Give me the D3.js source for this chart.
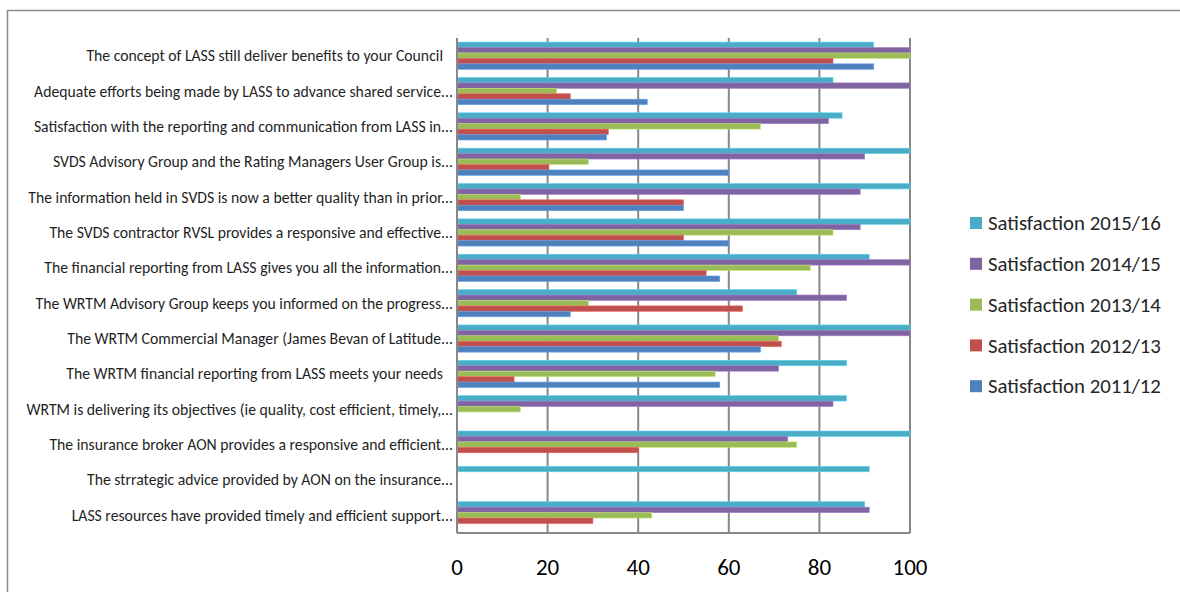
<!DOCTYPE html>
<html>
<head>
<meta charset="utf-8">
<script src="https://cdn.jsdelivr.net/npm/d3@7"></script>
<style>
  body { margin: 0; background: #fff; }
  svg { display: block; }
  text { font-family: Carlito, Calibri, Lato, "Open Sans", sans-serif; }
</style>
</head>
<body>
<div id="chart"></div>
<script>
const questions = [
  'The concept of LASS still deliver benefits to your Council',
  'Adequate efforts being made by LASS to advance shared service...',
  'Satisfaction with the reporting and communication from LASS in...',
  'SVDS Advisory Group and the Rating Managers User Group is...',
  'The information held in SVDS is now a better quality than in prior...',
  'The SVDS contractor RVSL provides a responsive and effective...',
  'The financial reporting from LASS gives you all the information...',
  'The WRTM Advisory Group keeps you informed on the progress...',
  'The WRTM Commercial Manager (James Bevan of Latitude...',
  'The WRTM financial reporting from LASS meets your needs',
  'WRTM is delivering its objectives (ie quality, cost efficient, timely,...',
  'The insurance broker AON provides a responsive and efficient...',
  'The strrategic advice provided by AON on the insurance...',
  'LASS resources have provided timely and efficient support...'
];

const seriesNames = ['Satisfaction 2015/16', 'Satisfaction 2014/15', 'Satisfaction 2013/14',
                     'Satisfaction 2012/13', 'Satisfaction 2011/12'];

// null = no response that year
const sat1516 = [92, 83, 85, 100, 100, 100, 91, 75, 100, 86, 86, 100, 91, 90];
const sat1415 = [100, 100, 82, 90, 89, 89, 100, 86, 100, 71, 83, 73, null, 91];
const sat1314 = [100, 22, 67, 29, 14, 83, 78, 29, 71, 57, 14, 75, null, 43];
const sat1213 = [83, 25, 33.4, 20.3, 50, 50, 55, 63, 71.6, 12.6, null, 40, null, 30];
const sat1112 = [92, 42, 33, 60, 50, 60, 58, 25, 67, 58, null, null, null, null];

const xTicks = [0, 20, 40, 60, 80, 100];

const colors = ['#4bacc6', '#8064a2', '#9bbb59', '#c0504d', '#4f81bd'];
const seriesValues = [sat1516, sat1415, sat1314, sat1213, sat1112];

const w = 1180;
const h = 592;
const plot = { left: 457, right: 910, top: 38, bottom: 533 };

const svg = d3.select('#chart')
  .append('svg')
  .attr('width', w)
  .attr('height', h);

// outer frame
svg.append('rect')
  .attr('x', 7.5)
  .attr('y', 10.5)
  .attr('width', w + 20)
  .attr('height', h + 20)
  .attr('fill', 'none')
  .attr('stroke', '#8c8c8c')
  .attr('stroke-width', 1.5);

// Scales
const xScale = d3.scaleLinear()
  .domain([0, 100])
  .range([plot.left, plot.right]);

const yScale = d3.scaleBand()
  .domain(questions)
  .range([plot.top, plot.bottom]);

const band = yScale.bandwidth();
const gap = band * 1.5 / 6.5;
const ySub = d3.scaleBand()
  .domain(seriesNames)
  .range([gap / 2, band - gap / 2]);

// gridlines
svg.append('g')
  .selectAll('line')
  .data(xTicks)
  .enter()
  .append('line')
  .attr('x1', d => xScale(d))
  .attr('x2', d => xScale(d))
  .attr('y1', plot.top)
  .attr('y2', plot.bottom)
  .attr('stroke', '#878787')
  .attr('stroke-width', 2);

// bottom axis line
svg.append('line')
  .attr('x1', plot.left)
  .attr('x2', plot.right)
  .attr('y1', plot.bottom)
  .attr('y2', plot.bottom)
  .attr('stroke', '#878787')
  .attr('stroke-width', 2);

// Bars
const rows = [];
seriesNames.forEach((s, si) => {
  questions.forEach((q, qi) => {
    const v = seriesValues[si][qi];
    if (v != null) rows.push({ q, s, v, color: colors[si] });
  });
});

svg.append('g')
  .selectAll('rect')
  .data(rows)
  .enter()
  .append('rect')
  .attr('x', xScale(0) + 1)
  .attr('y', d => yScale(d.q) + ySub(d.s))
  .attr('width', d => xScale(d.v) - xScale(0) - 1)
  .attr('height', ySub.bandwidth())
  .attr('fill', d => d.color)
  .attr('stroke', d => d3.color(d.color).brighter(0.6))
  .attr('stroke-width', 0.6);

// left axis line on top of bars
svg.append('line')
  .attr('x1', plot.left)
  .attr('x2', plot.left)
  .attr('y1', plot.top)
  .attr('y2', plot.bottom)
  .attr('stroke', '#878787')
  .attr('stroke-width', 2);

// Category labels
const labels = svg.append('g')
  .selectAll('text')
  .data(questions)
  .enter()
  .append('text')
  .attr('x', d => d.endsWith('...') ? 453 : 443)
  .attr('y', d => yScale(d) + band / 2)
  .attr('dy', '0.35em')
  .attr('text-anchor', 'end')
  .attr('fill', '#1f1f1f')
  .attr('font-size', 14)
  .text(d => d);

// fit label font to the width seen in the picture
const refLen = labels.filter((d, i) => i === 0).node().getComputedTextLength();
labels.attr('font-size', 14 * 357 / refLen);

// x tick labels
svg.append('g')
  .selectAll('text')
  .data(xTicks)
  .enter()
  .append('text')
  .attr('x', d => xScale(d))
  .attr('y', 567)
  .attr('dy', '0.35em')
  .attr('text-anchor', 'middle')
  .attr('font-size', 23)
  .attr('fill', '#000')
  .text(d => d);

// Legend
const legend = svg.append('g')
  .attr('transform', 'translate(970, 223)');

const items = legend.selectAll('g')
  .data(seriesNames)
  .enter()
  .append('g')
  .attr('transform', (d, i) => `translate(0, ${i * 40.8})`);

items.append('rect')
  .attr('x', 0)
  .attr('y', -6)
  .attr('width', 12)
  .attr('height', 12)
  .attr('fill', (d, i) => colors[i]);

const legText = items.append('text')
  .attr('x', 18)
  .attr('y', 0)
  .attr('dy', '0.35em')
  .attr('font-size', 18)
  .attr('fill', '#262626')
  .text(d => d);

const legLen = legText.node().getComputedTextLength();
legText.attr('font-size', 18 * 173 / legLen);
</script>
</body>
</html>
